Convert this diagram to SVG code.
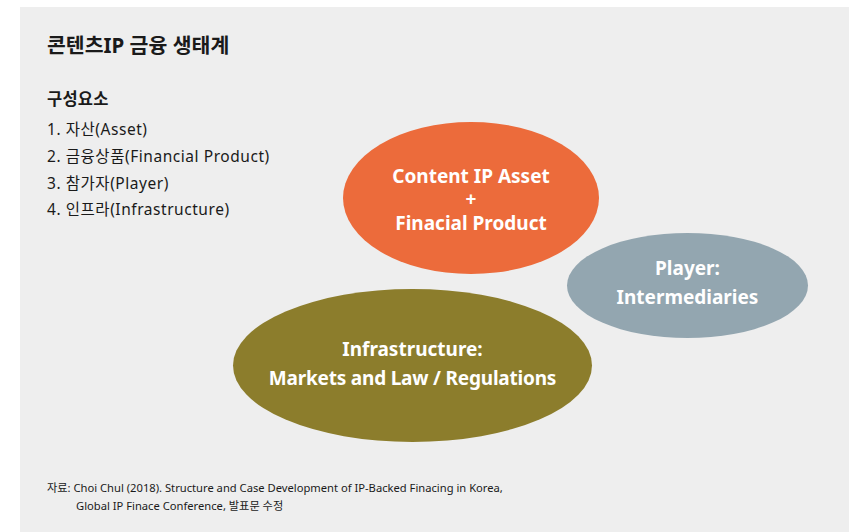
<svg xmlns="http://www.w3.org/2000/svg" width="849" height="532" viewBox="0 0 849 532">
  <style>
    .ko { font-family: "Noto Sans", "Noto Sans CJK KR", sans-serif; fill: #1a1a1a; }
    .title { font-size: 20.5px; font-weight: 700; }
    .sub { font-size: 16.5px; font-weight: 700; letter-spacing: 0.2px; }
    .item { font-size: 15.5px; letter-spacing: 0.55px; }
    .note { font-size: 11.2px; }
    .label { font-family: "Noto Sans", "Noto Sans CJK KR", sans-serif; font-size: 19px; font-weight: 700; fill: #ffffff; text-anchor: middle; }
  </style>
  <rect x="0" y="0" width="849" height="532" fill="#ffffff"/>
  <rect x="20" y="7" width="829" height="525" fill="#eeeeee"/>

  <!-- heading and component list -->
  <text class="ko title" x="47" y="53">콘텐츠IP 금융 생태계</text>
  <text class="ko sub" x="47" y="105">구성요소</text>
  <text class="ko item" x="47" y="135">1. 자산(Asset)</text>
  <text class="ko item" x="47" y="162">2. 금융상품(Financial Product)</text>
  <text class="ko item" x="47" y="189">3. 참가자(Player)</text>
  <text class="ko item" x="47" y="215">4. 인프라(Infrastructure)</text>

  <!-- ecosystem circles -->
  <g id="asset">
    <ellipse cx="471" cy="198" rx="128" ry="76" fill="#ec6b3b"/>
    <text class="label" x="471" y="183">Content IP Asset</text>
    <text class="label" x="471" y="206">+</text>
    <text class="label" x="471" y="230">Finacial Product</text>
  </g>
  <g id="player">
    <ellipse cx="687.5" cy="285.5" rx="120.5" ry="52.5" fill="#93a6b0"/>
    <text class="label" x="687.5" y="275">Player:</text>
    <text class="label" x="687.5" y="304">Intermediaries</text>
  </g>
  <g id="infrastructure">
    <ellipse cx="412.5" cy="365.5" rx="179.5" ry="76.5" fill="#8c7d2c"/>
    <text class="label" x="412.5" y="356">Infrastructure:</text>
    <text class="label" x="412.5" y="385" letter-spacing="-0.2">Markets and Law / Regulations</text>
  </g>
  <g id="connectors"/>

  <!-- source note -->
  <text class="ko note" x="47" y="492">자료: Choi Chul (2018). Structure and Case Development of IP-Backed Finacing in Korea,</text>
  <text class="ko note" x="76" y="510">Global IP Finace Conference, 발표문 수정</text>
</svg>
